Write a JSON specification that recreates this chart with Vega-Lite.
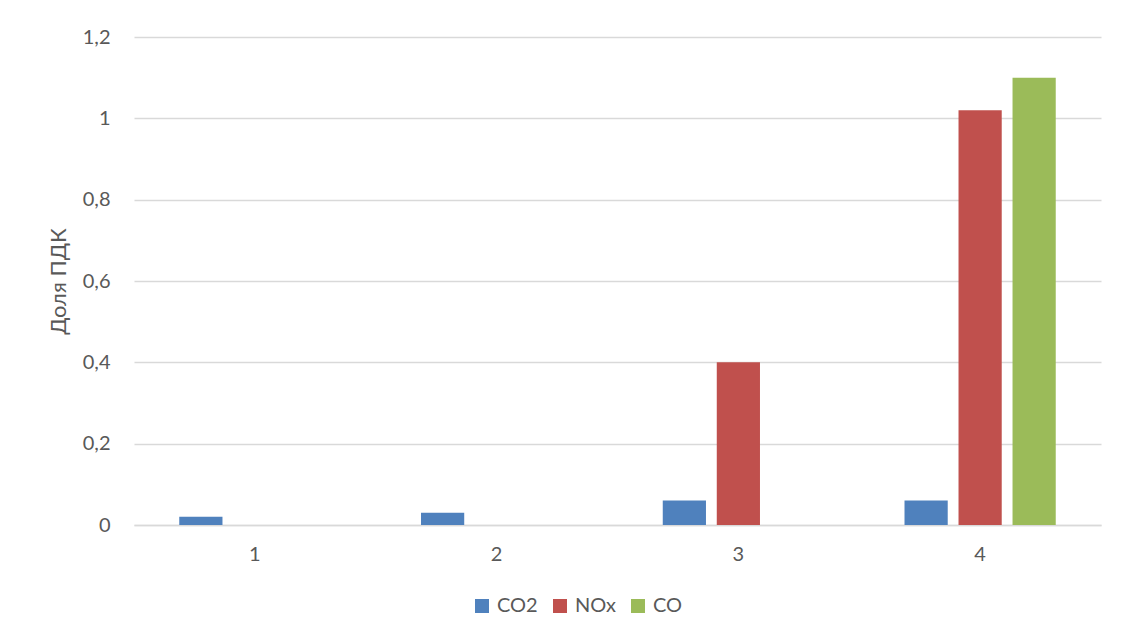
{
  "$schema": "https://vega.github.io/schema/vega-lite/v6.json",
  "width": 967,
  "height": 488,
  "autosize": "none",
  "padding": {"left": 134, "top": 37, "right": 25, "bottom": 117},
  "background": "white",
  "config": {
    "font": "Lato",
    "view": {"stroke": null},
    "axis": {"labelFont": "Lato", "titleFont": "Lato", "labelColor": "#595959", "titleColor": "#595959"}
  },
  "data": {
    "values": [
      {"group": "1", "series": "CO2", "value": 0.02},
      {"group": "2", "series": "CO2", "value": 0.03},
      {"group": "3", "series": "CO2", "value": 0.06},
      {"group": "3", "series": "NOx", "value": 0.40},
      {"group": "4", "series": "CO2", "value": 0.06},
      {"group": "4", "series": "NOx", "value": 1.02},
      {"group": "4", "series": "CO", "value": 1.10}
    ]
  },
  "mark": {"type": "bar"},
  "encoding": {
    "x": {
      "field": "group",
      "type": "nominal",
      "scale": {"paddingInner": 0, "paddingOuter": 0},
      "axis": {
        "title": null,
        "labelAngle": 0,
        "labelFontSize": 20,
        "labelPadding": 19,
        "ticks": false,
        "domain": true,
        "domainColor": "#d9d9d9",
        "domainWidth": 1.5,
        "grid": false
      }
    },
    "xOffset": {
      "field": "series",
      "type": "nominal",
      "scale": {"domain": ["CO2", "NOx", "CO"], "paddingInner": 0.2, "paddingOuter": 0.838}
    },
    "y": {
      "field": "value",
      "type": "quantitative",
      "scale": {"domain": [0, 1.2], "nice": false},
      "axis": {
        "title": "Доля ПДК",
        "titleFontSize": 22,
        "titleFontWeight": "normal",
        "titlePadding": 12,
        "values": [0, 0.2, 0.4, 0.6, 0.8, 1, 1.2],
        "labelExpr": "replace(format(datum.value, '.1~f'), '.', ',')",
        "labelFontSize": 20,
        "labelPadding": 24,
        "ticks": false,
        "domain": false,
        "grid": true,
        "gridColor": "#d9d9d9",
        "gridWidth": 1.3
      }
    },
    "color": {
      "field": "series",
      "type": "nominal",
      "scale": {"domain": ["CO2", "NOx", "CO"], "range": ["#4f81bd", "#c0504d", "#9bbb59"]},
      "legend": {
        "title": null,
        "orient": "none",
        "direction": "horizontal",
        "legendX": 338,
        "legendY": 559,
        "symbolType": "square",
        "symbolSize": 196,
        "symbolStrokeWidth": 0,
        "symbolOpacity": 1,
        "labelFontSize": 20,
        "labelColor": "#595959",
        "labelOffset": 5,
        "columnPadding": 12
      }
    }
  }
}
